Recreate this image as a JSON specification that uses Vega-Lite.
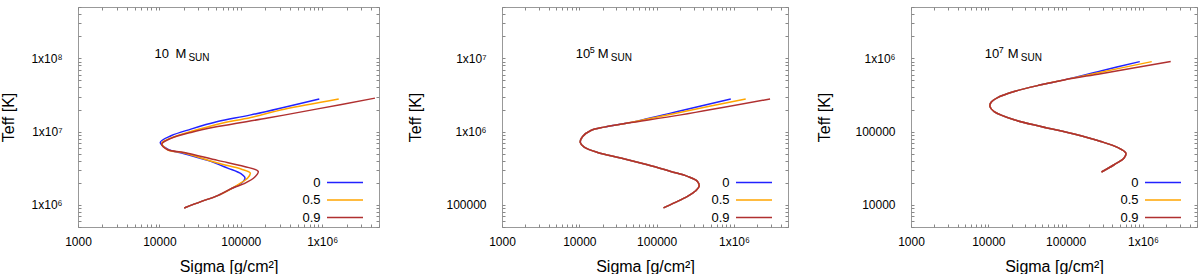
{
  "$schema": "https://vega.github.io/schema/vega-lite/v6.json",
  "background": "white",
  "padding": {"left": 0, "top": 0, "right": 2, "bottom": 0},
  "config": {
    "font": "Liberation Sans",
    "view": {"stroke": "#999999", "strokeWidth": 1},
    "axis": {"domain": false, "grid": false, "ticks": true, "tickColor": "#888888", "tickSize": -3, "tickWidth": 1,
      "labelFontSize": 12, "labelColor": "#000000", "labelOverlap": false, "labelFlush": false,
      "titleFontSize": 16, "titleFontWeight": "normal", "titleColor": "#000000"},
    "axisX": {"labelPadding": 12, "titlePadding": 11},
    "axisY": {"labelPadding": 19},
    "text": {"color": "#000000"}
  },
  "datasets": {
    "p1": [
      {"sigma": 923000, "teff": 27900000, "a": "0"},
      {"sigma": 133000, "teff": 16900000, "a": "0"},
      {"sigma": 52000, "teff": 13700000, "a": "0"},
      {"sigma": 24400, "teff": 10800000, "a": "0"},
      {"sigma": 13900, "teff": 8770000, "a": "0"},
      {"sigma": 10250, "teff": 7110000, "a": "0"},
      {"sigma": 12650, "teff": 5780000, "a": "0"},
      {"sigma": 20200, "teff": 4990000, "a": "0"},
      {"sigma": 39200, "teff": 4050000, "a": "0"},
      {"sigma": 69000, "teff": 3180000, "a": "0"},
      {"sigma": 100500, "teff": 2670000, "a": "0"},
      {"sigma": 112700, "teff": 2330000, "a": "0"},
      {"sigma": 102600, "teff": 1990000, "a": "0"},
      {"sigma": 79400, "teff": 1700000, "a": "0"},
      {"sigma": 52000, "teff": 1340000, "a": "0"},
      {"sigma": 32400, "teff": 1110000, "a": "0"},
      {"sigma": 20200, "teff": 910000, "a": "0"},
      {"sigma": 1600000, "teff": 27900000, "a": "0.5"},
      {"sigma": 342000, "teff": 20200000, "a": "0.5"},
      {"sigma": 133000, "teff": 15600000, "a": "0.5"},
      {"sigma": 52000, "teff": 12600000, "a": "0.5"},
      {"sigma": 24400, "teff": 10000000, "a": "0.5"},
      {"sigma": 13900, "teff": 8170000, "a": "0.5"},
      {"sigma": 10700, "teff": 6980000, "a": "0.5"},
      {"sigma": 12650, "teff": 5650000, "a": "0.5"},
      {"sigma": 20200, "teff": 5090000, "a": "0.5"},
      {"sigma": 52000, "teff": 3720000, "a": "0.5"},
      {"sigma": 100500, "teff": 3090000, "a": "0.5"},
      {"sigma": 131000, "teff": 2720000, "a": "0.5"},
      {"sigma": 121600, "teff": 2330000, "a": "0.5"},
      {"sigma": 95900, "teff": 1930000, "a": "0.5"},
      {"sigma": 79400, "teff": 1700000, "a": "0.5"},
      {"sigma": 52000, "teff": 1340000, "a": "0.5"},
      {"sigma": 32400, "teff": 1110000, "a": "0.5"},
      {"sigma": 20200, "teff": 910000, "a": "0.5"},
      {"sigma": 4460000, "teff": 28600000, "a": "0.9"},
      {"sigma": 881000, "teff": 20400000, "a": "0.9"},
      {"sigma": 214000, "teff": 15300000, "a": "0.9"},
      {"sigma": 52000, "teff": 11700000, "a": "0.9"},
      {"sigma": 24400, "teff": 9730000, "a": "0.9"},
      {"sigma": 13900, "teff": 8090000, "a": "0.9"},
      {"sigma": 10700, "teff": 6760000, "a": "0.9"},
      {"sigma": 12650, "teff": 5650000, "a": "0.9"},
      {"sigma": 20200, "teff": 5200000, "a": "0.9"},
      {"sigma": 52000, "teff": 4050000, "a": "0.9"},
      {"sigma": 110400, "teff": 3350000, "a": "0.9"},
      {"sigma": 164000, "teff": 2860000, "a": "0.9"},
      {"sigma": 149000, "teff": 2400000, "a": "0.9"},
      {"sigma": 110400, "teff": 1950000, "a": "0.9"},
      {"sigma": 79400, "teff": 1700000, "a": "0.9"},
      {"sigma": 52000, "teff": 1340000, "a": "0.9"},
      {"sigma": 32400, "teff": 1110000, "a": "0.9"},
      {"sigma": 20200, "teff": 910000, "a": "0.9"}
    ],
    "p2": [
      {"sigma": 910000, "teff": 2790000, "a": "0"},
      {"sigma": 205600, "teff": 1930000, "a": "0"},
      {"sigma": 42100, "teff": 1306000, "a": "0"},
      {"sigma": 21000, "teff": 1151000, "a": "0"},
      {"sigma": 14100, "teff": 1035000, "a": "0"},
      {"sigma": 11040, "teff": 857000, "a": "0"},
      {"sigma": 10280, "teff": 711000, "a": "0"},
      {"sigma": 11560, "teff": 615000, "a": "0"},
      {"sigma": 17220, "teff": 520000, "a": "0"},
      {"sigma": 34400, "teff": 436000, "a": "0"},
      {"sigma": 76200, "teff": 353000, "a": "0"},
      {"sigma": 152400, "teff": 286000, "a": "0"},
      {"sigma": 250600, "teff": 245000, "a": "0"},
      {"sigma": 337300, "teff": 209000, "a": "0"},
      {"sigma": 354800, "teff": 180000, "a": "0"},
      {"sigma": 320600, "teff": 156000, "a": "0"},
      {"sigma": 250600, "teff": 131000, "a": "0"},
      {"sigma": 168300, "teff": 106400, "a": "0"},
      {"sigma": 122700, "teff": 91000, "a": "0"},
      {"sigma": 1419000, "teff": 2790000, "a": "0.5"},
      {"sigma": 205600, "teff": 1840000, "a": "0.5"},
      {"sigma": 42100, "teff": 1306000, "a": "0.5"},
      {"sigma": 21000, "teff": 1151000, "a": "0.5"},
      {"sigma": 14100, "teff": 1035000, "a": "0.5"},
      {"sigma": 11040, "teff": 857000, "a": "0.5"},
      {"sigma": 10280, "teff": 711000, "a": "0.5"},
      {"sigma": 11560, "teff": 615000, "a": "0.5"},
      {"sigma": 17220, "teff": 520000, "a": "0.5"},
      {"sigma": 34400, "teff": 436000, "a": "0.5"},
      {"sigma": 76200, "teff": 353000, "a": "0.5"},
      {"sigma": 152400, "teff": 286000, "a": "0.5"},
      {"sigma": 250600, "teff": 245000, "a": "0.5"},
      {"sigma": 337300, "teff": 209000, "a": "0.5"},
      {"sigma": 354800, "teff": 180000, "a": "0.5"},
      {"sigma": 320600, "teff": 156000, "a": "0.5"},
      {"sigma": 250600, "teff": 131000, "a": "0.5"},
      {"sigma": 168300, "teff": 106400, "a": "0.5"},
      {"sigma": 122700, "teff": 91000, "a": "0.5"},
      {"sigma": 2930000, "teff": 2790000, "a": "0.9"},
      {"sigma": 205600, "teff": 1690000, "a": "0.9"},
      {"sigma": 42100, "teff": 1306000, "a": "0.9"},
      {"sigma": 21000, "teff": 1151000, "a": "0.9"},
      {"sigma": 14100, "teff": 1035000, "a": "0.9"},
      {"sigma": 11040, "teff": 857000, "a": "0.9"},
      {"sigma": 10280, "teff": 711000, "a": "0.9"},
      {"sigma": 11560, "teff": 615000, "a": "0.9"},
      {"sigma": 17220, "teff": 520000, "a": "0.9"},
      {"sigma": 34400, "teff": 436000, "a": "0.9"},
      {"sigma": 76200, "teff": 353000, "a": "0.9"},
      {"sigma": 152400, "teff": 286000, "a": "0.9"},
      {"sigma": 250600, "teff": 245000, "a": "0.9"},
      {"sigma": 337300, "teff": 209000, "a": "0.9"},
      {"sigma": 354800, "teff": 180000, "a": "0.9"},
      {"sigma": 320600, "teff": 156000, "a": "0.9"},
      {"sigma": 250600, "teff": 131000, "a": "0.9"},
      {"sigma": 168300, "teff": 106400, "a": "0.9"},
      {"sigma": 122700, "teff": 91000, "a": "0.9"}
    ],
    "p3": [
      {"sigma": 910000, "teff": 900000, "a": "0"},
      {"sigma": 285000, "teff": 672000, "a": "0"},
      {"sigma": 95700, "teff": 507000, "a": "0"},
      {"sigma": 47900, "teff": 434000, "a": "0"},
      {"sigma": 21600, "teff": 352000, "a": "0"},
      {"sigma": 13200, "teff": 291000, "a": "0"},
      {"sigma": 10810, "teff": 249000, "a": "0"},
      {"sigma": 10500, "teff": 219000, "a": "0"},
      {"sigma": 11900, "teff": 187500, "a": "0"},
      {"sigma": 21600, "teff": 144900, "a": "0"},
      {"sigma": 47900, "teff": 117200, "a": "0"},
      {"sigma": 128800, "teff": 92500, "a": "0"},
      {"sigma": 285000, "teff": 73300, "a": "0"},
      {"sigma": 467700, "teff": 60800, "a": "0"},
      {"sigma": 600000, "teff": 50900, "a": "0"},
      {"sigma": 570000, "teff": 43600, "a": "0"},
      {"sigma": 423600, "teff": 35300, "a": "0"},
      {"sigma": 291000, "teff": 28100, "a": "0"},
      {"sigma": 1300000, "teff": 900000, "a": "0.5"},
      {"sigma": 285000, "teff": 646000, "a": "0.5"},
      {"sigma": 95700, "teff": 507000, "a": "0.5"},
      {"sigma": 47900, "teff": 434000, "a": "0.5"},
      {"sigma": 21600, "teff": 352000, "a": "0.5"},
      {"sigma": 13200, "teff": 291000, "a": "0.5"},
      {"sigma": 10810, "teff": 249000, "a": "0.5"},
      {"sigma": 10500, "teff": 219000, "a": "0.5"},
      {"sigma": 11900, "teff": 187500, "a": "0.5"},
      {"sigma": 21600, "teff": 144900, "a": "0.5"},
      {"sigma": 47900, "teff": 117200, "a": "0.5"},
      {"sigma": 128800, "teff": 92500, "a": "0.5"},
      {"sigma": 285000, "teff": 73300, "a": "0.5"},
      {"sigma": 467700, "teff": 60800, "a": "0.5"},
      {"sigma": 600000, "teff": 50900, "a": "0.5"},
      {"sigma": 570000, "teff": 43600, "a": "0.5"},
      {"sigma": 423600, "teff": 35300, "a": "0.5"},
      {"sigma": 291000, "teff": 28100, "a": "0.5"},
      {"sigma": 2286000, "teff": 900000, "a": "0.9"},
      {"sigma": 285000, "teff": 617000, "a": "0.9"},
      {"sigma": 95700, "teff": 507000, "a": "0.9"},
      {"sigma": 47900, "teff": 434000, "a": "0.9"},
      {"sigma": 21600, "teff": 352000, "a": "0.9"},
      {"sigma": 13200, "teff": 291000, "a": "0.9"},
      {"sigma": 10810, "teff": 249000, "a": "0.9"},
      {"sigma": 10500, "teff": 219000, "a": "0.9"},
      {"sigma": 11900, "teff": 187500, "a": "0.9"},
      {"sigma": 21600, "teff": 144900, "a": "0.9"},
      {"sigma": 47900, "teff": 117200, "a": "0.9"},
      {"sigma": 128800, "teff": 92500, "a": "0.9"},
      {"sigma": 285000, "teff": 73300, "a": "0.9"},
      {"sigma": 467700, "teff": 60800, "a": "0.9"},
      {"sigma": 600000, "teff": 50900, "a": "0.9"},
      {"sigma": 570000, "teff": 43600, "a": "0.9"},
      {"sigma": 423600, "teff": 35300, "a": "0.9"},
      {"sigma": 291000, "teff": 28100, "a": "0.9"}
    ]
  },
  "spacing": 27,
  "resolve": {"legend": {"color": "independent"}},
  "hconcat": [
    {
      "width": 301, "height": 220,
      "resolve": {"axis": {"x": "independent", "y": "independent"}},
      "layer": [
        {
          "data": {"name": "p1"},
          "mark": {"type": "line", "interpolate": "catmull-rom", "strokeWidth": 1.5, "clip": true},
          "encoding": {
            "x": {"field": "sigma", "type": "quantitative", "scale": {"type": "log", "domain": [1000, 5000000], "nice": false},
              "axis": {"orient": "bottom", "title": "Sigma [g/cm²]",
                "values": [1000,2000,3000,4000,5000,6000,7000,8000,9000,10000,20000,30000,40000,50000,60000,70000,80000,90000,100000,200000,300000,400000,500000,600000,700000,800000,900000,1000000,2000000,3000000,4000000,5000000],
                "labelExpr": "datum.value == 1000 ? '1000' : datum.value == 10000 ? '10000' : datum.value == 100000 ? '100000' : datum.value == 1000000 ? '1x10⁶' : ''"}},
            "y": {"field": "teff", "type": "quantitative", "scale": {"type": "log", "domain": [500000, 500000000], "nice": false},
              "axis": {"orient": "left", "title": "Teff [K]", "titlePadding": 14,
                "values": [500000,600000,700000,800000,900000,1000000,2000000,3000000,4000000,5000000,6000000,7000000,8000000,9000000,10000000,20000000,30000000,40000000,50000000,60000000,70000000,80000000,90000000,100000000,200000000,300000000,400000000,500000000],
                "labelExpr": "datum.value == 1000000 ? '1x10⁶' : datum.value == 10000000 ? '1x10⁷' : datum.value == 100000000 ? '1x10⁸' : ''"}},
            "color": {"field": "a", "type": "nominal", "scale": {"domain": ["0", "0.5", "0.9"], "range": ["#2222ff", "#ffa500", "#b03030"]},
              "legend": {"orient": "none", "legendX": 249, "legendY": 169, "title": null, "symbolType": "M-4,0H4", "symbolSize": 81, "symbolStrokeWidth": 1.5,
                "rowPadding": 3.5, "labelFontSize": 13, "labelColor": "#000000", "labelAlign": "right", "labelOffset": -31, "symbolOffset": 11.5, "padding": 0}},
            "order": {"value": null}
          }
        },
        {
          "data": {"values": [{}]},
          "mark": {"type": "text", "text": "10", "align": "left", "baseline": "alphabetic", "fontSize": 13},
          "encoding": {
            "x": {"datum": 8700, "type": "quantitative",
              "axis": {"orient": "top", "title": null, "labels": false,
                "values": [1000,2000,3000,4000,5000,6000,7000,8000,9000,10000,20000,30000,40000,50000,60000,70000,80000,90000,100000,200000,300000,400000,500000,600000,700000,800000,900000,1000000,2000000,3000000,4000000,5000000]}},
            "y": {"datum": 100000000, "type": "quantitative",
              "axis": {"orient": "right", "title": null, "labels": false,
                "values": [500000,600000,700000,800000,900000,1000000,2000000,3000000,4000000,5000000,6000000,7000000,8000000,9000000,10000000,20000000,30000000,40000000,50000000,60000000,70000000,80000000,90000000,100000000,200000000,300000000,400000000,500000000]}}
          }
        },
        {
          "data": {"values": [{}]},
          "mark": {"type": "text", "text": "M", "align": "left", "baseline": "alphabetic", "fontSize": 13, "dx": 21},
          "encoding": {"x": {"datum": 8700, "type": "quantitative", "axis": null}, "y": {"datum": 100000000, "type": "quantitative", "axis": null}}
        },
        {
          "data": {"values": [{}]},
          "mark": {"type": "text", "text": "SUN", "align": "left", "baseline": "alphabetic", "fontSize": 10, "dx": 34, "dy": 3},
          "encoding": {"x": {"datum": 8700, "type": "quantitative", "axis": null}, "y": {"datum": 100000000, "type": "quantitative", "axis": null}}
        }
      ]
    },
    {
      "width": 286, "height": 220,
      "resolve": {"axis": {"x": "independent", "y": "independent"}},
      "layer": [
        {
          "data": {"name": "p2"},
          "mark": {"type": "line", "interpolate": "catmull-rom", "strokeWidth": 1.5, "clip": true},
          "encoding": {
            "x": {"field": "sigma", "type": "quantitative", "scale": {"type": "log", "domain": [1000, 5000000], "nice": false},
              "axis": {"orient": "bottom", "title": "Sigma [g/cm²]",
                "values": [1000,2000,3000,4000,5000,6000,7000,8000,9000,10000,20000,30000,40000,50000,60000,70000,80000,90000,100000,200000,300000,400000,500000,600000,700000,800000,900000,1000000,2000000,3000000,4000000,5000000],
                "labelExpr": "datum.value == 1000 ? '1000' : datum.value == 10000 ? '10000' : datum.value == 100000 ? '100000' : datum.value == 1000000 ? '1x10⁶' : ''"}},
            "y": {"field": "teff", "type": "quantitative", "scale": {"type": "log", "domain": [50000, 50000000], "nice": false},
              "axis": {"orient": "left", "title": "Teff [K]", "titlePadding": 22,
                "values": [50000,60000,70000,80000,90000,100000,200000,300000,400000,500000,600000,700000,800000,900000,1000000,2000000,3000000,4000000,5000000,6000000,7000000,8000000,9000000,10000000,20000000,30000000,40000000,50000000],
                "labelExpr": "datum.value == 100000 ? '100000' : datum.value == 1000000 ? '1x10⁶' : datum.value == 10000000 ? '1x10⁷' : ''"}},
            "color": {"field": "a", "type": "nominal", "scale": {"domain": ["0", "0.5", "0.9"], "range": ["#2222ff", "#ffa500", "#b03030"]},
              "legend": {"orient": "none", "legendX": 234, "legendY": 169, "title": null, "symbolType": "M-4,0H4", "symbolSize": 81, "symbolStrokeWidth": 1.5,
                "rowPadding": 3.5, "labelFontSize": 13, "labelColor": "#000000", "labelAlign": "right", "labelOffset": -31, "symbolOffset": 11.5, "padding": 0}},
            "order": {"value": null}
          }
        },
        {
          "data": {"values": [{}]},
          "mark": {"type": "text", "text": "10", "align": "left", "baseline": "alphabetic", "fontSize": 13},
          "encoding": {
            "x": {"datum": 9000, "type": "quantitative",
              "axis": {"orient": "top", "title": null, "labels": false,
                "values": [1000,2000,3000,4000,5000,6000,7000,8000,9000,10000,20000,30000,40000,50000,60000,70000,80000,90000,100000,200000,300000,400000,500000,600000,700000,800000,900000,1000000,2000000,3000000,4000000,5000000]}},
            "y": {"datum": 10000000, "type": "quantitative",
              "axis": {"orient": "right", "title": null, "labels": false,
                "values": [50000,60000,70000,80000,90000,100000,200000,300000,400000,500000,600000,700000,800000,900000,1000000,2000000,3000000,4000000,5000000,6000000,7000000,8000000,9000000,10000000,20000000,30000000,40000000,50000000]}}
          }
        },
        {
          "data": {"values": [{}]},
          "mark": {"type": "text", "text": "5", "align": "left", "baseline": "alphabetic", "fontSize": 9, "dx": 14, "dy": -5},
          "encoding": {"x": {"datum": 9000, "type": "quantitative", "axis": null}, "y": {"datum": 10000000, "type": "quantitative", "axis": null}}
        },
        {
          "data": {"values": [{}]},
          "mark": {"type": "text", "text": "M", "align": "left", "baseline": "alphabetic", "fontSize": 13, "dx": 22},
          "encoding": {"x": {"datum": 9000, "type": "quantitative", "axis": null}, "y": {"datum": 10000000, "type": "quantitative", "axis": null}}
        },
        {
          "data": {"values": [{}]},
          "mark": {"type": "text", "text": "SUN", "align": "left", "baseline": "alphabetic", "fontSize": 10, "dx": 35, "dy": 3},
          "encoding": {"x": {"datum": 9000, "type": "quantitative", "axis": null}, "y": {"datum": 10000000, "type": "quantitative", "axis": null}}
        }
      ]
    },
    {
      "width": 286, "height": 220,
      "resolve": {"axis": {"x": "independent", "y": "independent"}},
      "layer": [
        {
          "data": {"name": "p3"},
          "mark": {"type": "line", "interpolate": "catmull-rom", "strokeWidth": 1.5, "clip": true},
          "encoding": {
            "x": {"field": "sigma", "type": "quantitative", "scale": {"type": "log", "domain": [1000, 5000000], "nice": false},
              "axis": {"orient": "bottom", "title": "Sigma [g/cm²]",
                "values": [1000,2000,3000,4000,5000,6000,7000,8000,9000,10000,20000,30000,40000,50000,60000,70000,80000,90000,100000,200000,300000,400000,500000,600000,700000,800000,900000,1000000,2000000,3000000,4000000,5000000],
                "labelExpr": "datum.value == 1000 ? '1000' : datum.value == 10000 ? '10000' : datum.value == 100000 ? '100000' : datum.value == 1000000 ? '1x10⁶' : ''"}},
            "y": {"field": "teff", "type": "quantitative", "scale": {"type": "log", "domain": [5000, 5000000], "nice": false},
              "axis": {"orient": "left", "title": "Teff [K]", "titlePadding": 22,
                "values": [5000,6000,7000,8000,9000,10000,20000,30000,40000,50000,60000,70000,80000,90000,100000,200000,300000,400000,500000,600000,700000,800000,900000,1000000,2000000,3000000,4000000,5000000],
                "labelExpr": "datum.value == 10000 ? '10000' : datum.value == 100000 ? '100000' : datum.value == 1000000 ? '1x10⁶' : ''"}},
            "color": {"field": "a", "type": "nominal", "scale": {"domain": ["0", "0.5", "0.9"], "range": ["#2222ff", "#ffa500", "#b03030"]},
              "legend": {"orient": "none", "legendX": 234, "legendY": 169, "title": null, "symbolType": "M-4,0H4", "symbolSize": 81, "symbolStrokeWidth": 1.5,
                "rowPadding": 3.5, "labelFontSize": 13, "labelColor": "#000000", "labelAlign": "right", "labelOffset": -31, "symbolOffset": 11.5, "padding": 0}},
            "order": {"value": null}
          }
        },
        {
          "data": {"values": [{}]},
          "mark": {"type": "text", "text": "10", "align": "left", "baseline": "alphabetic", "fontSize": 13},
          "encoding": {
            "x": {"datum": 9000, "type": "quantitative",
              "axis": {"orient": "top", "title": null, "labels": false,
                "values": [1000,2000,3000,4000,5000,6000,7000,8000,9000,10000,20000,30000,40000,50000,60000,70000,80000,90000,100000,200000,300000,400000,500000,600000,700000,800000,900000,1000000,2000000,3000000,4000000,5000000]}},
            "y": {"datum": 1000000, "type": "quantitative",
              "axis": {"orient": "right", "title": null, "labels": false,
                "values": [5000,6000,7000,8000,9000,10000,20000,30000,40000,50000,60000,70000,80000,90000,100000,200000,300000,400000,500000,600000,700000,800000,900000,1000000,2000000,3000000,4000000,5000000]}}
          }
        },
        {
          "data": {"values": [{}]},
          "mark": {"type": "text", "text": "7", "align": "left", "baseline": "alphabetic", "fontSize": 9, "dx": 14, "dy": -5},
          "encoding": {"x": {"datum": 9000, "type": "quantitative", "axis": null}, "y": {"datum": 1000000, "type": "quantitative", "axis": null}}
        },
        {
          "data": {"values": [{}]},
          "mark": {"type": "text", "text": "M", "align": "left", "baseline": "alphabetic", "fontSize": 13, "dx": 23},
          "encoding": {"x": {"datum": 9000, "type": "quantitative", "axis": null}, "y": {"datum": 1000000, "type": "quantitative", "axis": null}}
        },
        {
          "data": {"values": [{}]},
          "mark": {"type": "text", "text": "SUN", "align": "left", "baseline": "alphabetic", "fontSize": 10, "dx": 36, "dy": 3},
          "encoding": {"x": {"datum": 9000, "type": "quantitative", "axis": null}, "y": {"datum": 1000000, "type": "quantitative", "axis": null}}
        }
      ]
    }
  ]
}
